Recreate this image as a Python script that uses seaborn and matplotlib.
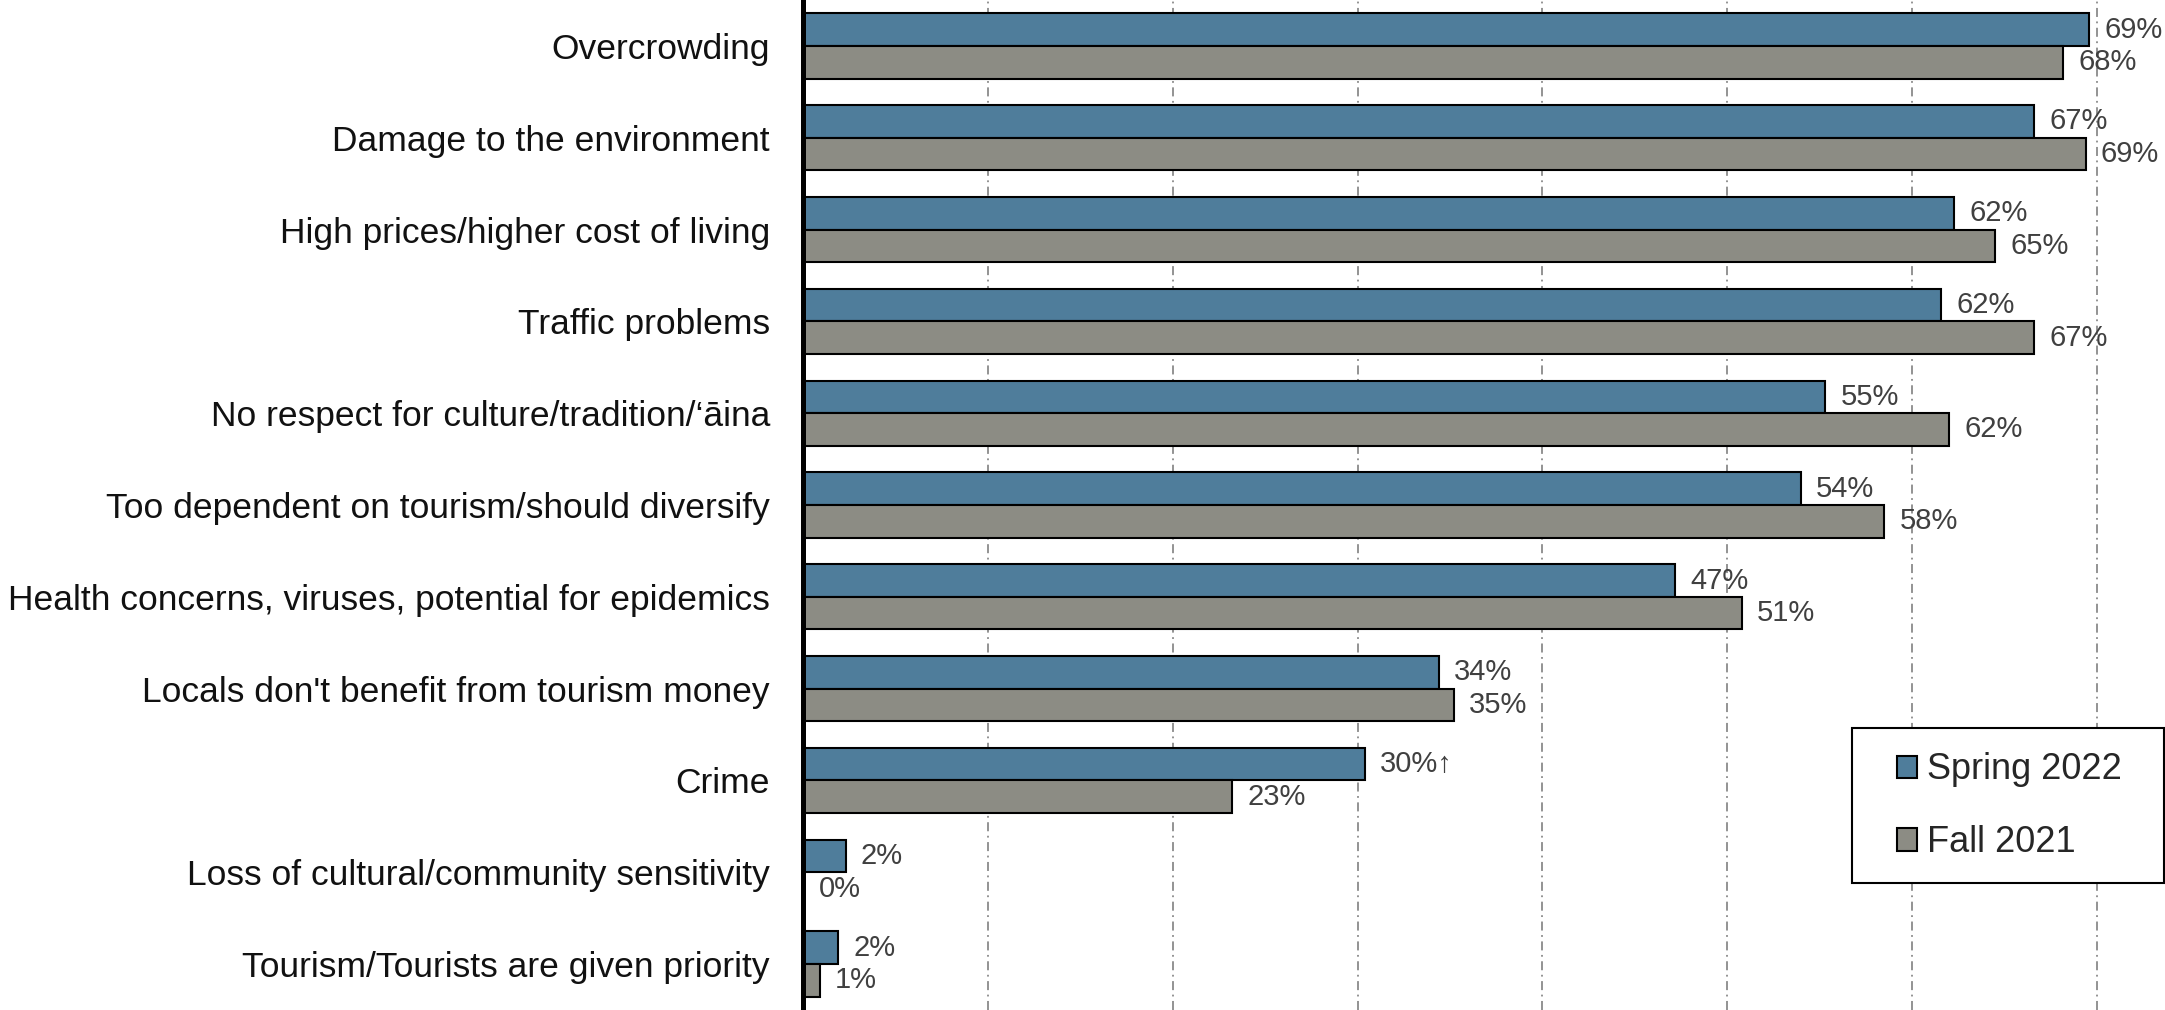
import matplotlib
matplotlib.use("Agg")
import matplotlib.pyplot as plt
from matplotlib.patches import Patch, Rectangle
import pandas as pd
import seaborn as sns

categories = [
    "Overcrowding",
    "Damage to the environment",
    "High prices/higher cost of living",
    "Traffic problems",
    "No respect for culture/tradition/\u2018\u0101ina",
    "Too dependent on tourism/should diversify",
    "Health concerns, viruses, potential for epidemics",
    "Locals don't benefit from tourism money",
    "Crime",
    "Loss of cultural/community sensitivity",
    "Tourism/Tourists are given priority",
]
# bar lengths (labels are the rounded figures shown)
spring_2022 = [69.6, 66.6, 62.3, 61.6, 55.3, 54.0, 47.2, 34.4, 30.4, 2.3, 1.9]
fall_2021 = [68.2, 69.4, 64.5, 66.6, 62.0, 58.5, 50.8, 35.2, 23.2, 0.0, 0.9]
spring_labels = ["69%", "67%", "62%", "62%", "55%", "54%", "47%", "34%", "30%\u2191", "2%", "2%"]
fall_labels = ["68%", "69%", "65%", "67%", "62%", "58%", "51%", "35%", "23%", "0%", "1%"]
periods = ["Spring 2022", "Fall 2021"]
colors = ["#4F7D9B", "#8C8C84"]

df = pd.DataFrame({
    "item": categories * 2,
    "value": spring_2022 + fall_2021,
    "period": [periods[0]] * len(categories) + [periods[1]] * len(categories),
})

sns.set_style("white")
plt.rcParams["font.family"] = ["Liberation Sans", "DejaVu Sans"]

fig = plt.figure(figsize=(21.65, 10.10), dpi=100)
ax = fig.add_axes([0.371, 0.0, 0.629, 1.0])

sns.barplot(data=df, x="value", y="item", hue="period", order=categories,
            hue_order=periods, palette=colors, orient="h", width=0.71,
            saturation=1, edgecolor="black", linewidth=1.5, legend=False, ax=ax)

ax.bar_label(ax.containers[0], labels=spring_labels, padding=11, fontsize=21, color="#404040")
ax.bar_label(ax.containers[1], labels=fall_labels, padding=11, fontsize=21, color="#404040")

ax.set_xlim(0, 73.7)
ax.set_ylim(10.5, -0.5)
ax.set_xticks(range(0, 80, 10))
ax.set_xticklabels([])
ax.tick_params(axis="both", length=0)
ax.tick_params(axis="y", labelsize=25.5, pad=24, labelcolor="#111111")
ax.set_xlabel("")
ax.set_ylabel("")
ax.set_axisbelow(True)
ax.grid(axis="x", color="#8a8a8a", linewidth=1.3, linestyle=(0, (5, 2.5, 1, 2.5)))
ax.grid(axis="y", visible=False)
for side in ["top", "right", "bottom"]:
    ax.spines[side].set_visible(False)
ax.spines["left"].set_linewidth(3.6)
ax.spines["left"].set_color("black")

# legend box drawn separately so the padding can match
ax.add_patch(Rectangle((0.770, 0.1257), 0.229, 0.1535, transform=ax.transAxes,
                       facecolor="white", edgecolor="black", linewidth=1.5, zorder=5))
handles = [Patch(facecolor=c, edgecolor="black", linewidth=1.5) for c in colors]
leg = ax.legend(handles, periods, loc="upper left", bbox_to_anchor=(0.803, 0.255),
                frameon=False, fontsize=26, handlelength=0.55, handleheight=0.57,
                handletextpad=0.3, labelspacing=1.05, borderpad=0, borderaxespad=0)
leg.set_zorder(6)

fig.savefig("out.png", dpi=100)
